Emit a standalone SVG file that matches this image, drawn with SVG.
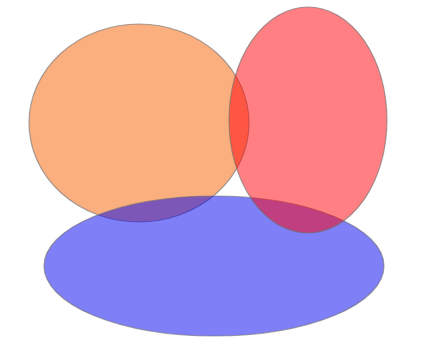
<svg xmlns="http://www.w3.org/2000/svg" width="421" height="339" viewBox="0 0 421 339">
<style>
.e{stroke:#6e6e6e;stroke-opacity:0.6;stroke-width:1.2;fill-opacity:0.5}
</style>
<rect width="421" height="339" fill="#ffffff"/>
<g id="orange"><ellipse class="e" cx="139" cy="123" rx="110" ry="99" fill="#f86000"/></g>
<g id="blue"><ellipse class="e" cx="214" cy="266" rx="170" ry="70" fill="#0000f2"/></g>
<g id="red"><ellipse class="e" cx="308" cy="120" rx="79" ry="113" fill="#ff0008"/></g>
<g id="connectors"/>
</svg>
